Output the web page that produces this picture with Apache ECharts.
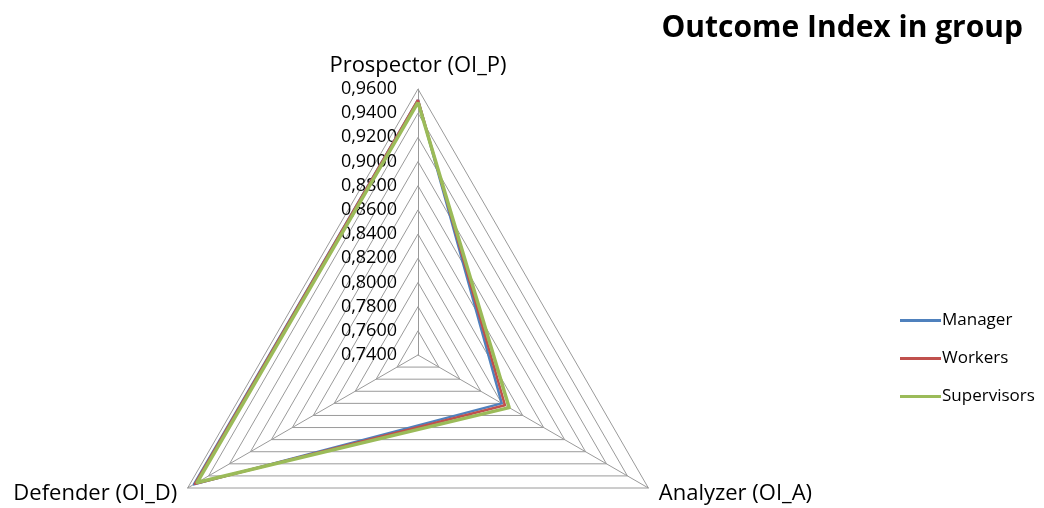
<!DOCTYPE html>
<html>
<head>
<meta charset="utf-8">
<style>html,body{margin:0;padding:0;background:#fff}#c{width:1044px;height:508px}</style>
<script src="https://cdn.jsdelivr.net/npm/echarts@6/dist/echarts.min.js"></script>
</head>
<body>
<div id="c"></div>
<script>
// ECharts places radar indicators counter-clockwise starting at the top
const indicators = ['Prospector (OI_P)', 'Defender (OI_D)', 'Analyzer (OI_A)'];
const manager = [0.951, 0.954, 0.820];
const workers = [0.951, 0.953, 0.823];
const supervisors = [0.949, 0.951, 0.827];
const seriesNames = ['Manager', 'Workers', 'Supervisors'];
const axisMin = 0.74, axisMax = 0.96;

const chart = echarts.init(document.getElementById('c'));
const FONT = '"Open Sans"';
chart.setOption({
  animation: false,
  title: {
    text: 'Outcome Index in group',
    right: 16, top: 8,
    textStyle: { fontFamily: FONT, fontWeight: 'bold', fontSize: 30, color: '#000' }
  },
  legend: {
    orient: 'vertical',
    left: 895, top: 307,
    itemWidth: 41, itemHeight: 3, itemGap: 21,
    icon: 'rect',
    data: seriesNames,
    textStyle: { fontFamily: FONT, fontSize: 17, color: '#000', padding: [0,0,0,-4] }
  },
  radar: {
    center: [418, 355],
    radius: 266,
    startAngle: 90,
    shape: 'polygon',
    splitNumber: 11,
    axisName: { fontFamily: FONT, fontSize: 22, color: '#000' },
    nameGap: 12,
    splitLine: { lineStyle: { color: '#9a9a9a', width: 1 } },
    splitArea: { show: false },
    axisLine: { lineStyle: { color: '#9a9a9a', width: 1 } },
    axisLabel: { show: false },
    indicator: indicators.map((n, i) => {
      const o = { name: n, min: axisMin, max: axisMax };
      if (i === 0) {
        o.axisLabel = {
          show: true, fontFamily: FONT, fontSize: 18, color: '#000', margin: 21,
          padding: [5, 0, 0, 0],
          formatter: v => v.toFixed(4).replace('.', ',')
        };
      }
      return o;
    })
  },
  series: [{
    type: 'radar',
    symbol: 'none',
    data: [
      { name: seriesNames[0], value: manager, lineStyle: { color: '#4F81BD', width: 2.5 }, itemStyle: { color: '#4F81BD' } },
      { name: seriesNames[1], value: workers, lineStyle: { color: '#C0504D', width: 2.5 }, itemStyle: { color: '#C0504D' } },
      { name: seriesNames[2], value: supervisors, lineStyle: { color: '#9BBB59', width: 3.5 }, itemStyle: { color: '#9BBB59' } }
    ]
  }]
});
</script>
</body>
</html>
